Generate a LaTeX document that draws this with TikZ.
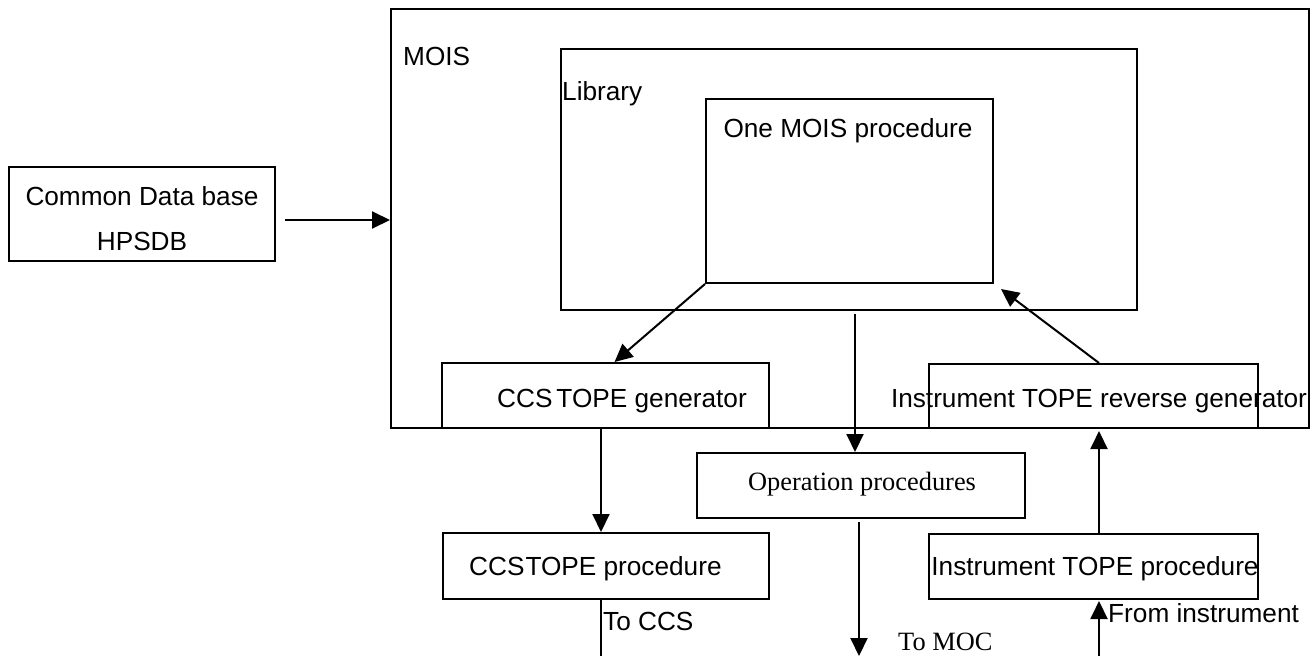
\documentclass[tikz,border=0pt]{standalone}
\usepackage{fontspec}
\setmainfont{Liberation Sans}
\newfontfamily\timesfont{Liberation Serif}
\usetikzlibrary{arrows.meta}
\tikzset{
  box/.style={draw, line width=2pt, inner sep=0pt, fill=none},
  lbl/.style={inner sep=0pt, font=\fontsize{26.2}{31}\selectfont},
  slbl/.style={inner sep=0pt, font=\timesfont\fontsize{26.4}{31}\selectfont},
  arr/.style={line width=2pt, -{Triangle[length=18pt,width=17pt]}},
  ln/.style={line width=2pt}
}
\begin{document}
\begin{tikzpicture}[x=1pt,y=-1pt]
\useasboundingbox (0,0) rectangle (1311,656);
% boxes
\node[box, minimum width=918pt, minimum height=419pt] (mois) at (850,218.5) {};
\node[box, minimum width=576pt, minimum height=261pt] (lib) at (849,179.5) {};
\node[box, minimum width=287pt, minimum height=184pt] (one) at (849.5,191) {};
\node[box, minimum width=266pt, minimum height=94pt] (cdb) at (142,214) {};
\node[box, minimum width=327pt, minimum height=65pt] (ccsgen) at (605.5,395.5) {};
\node[box, minimum width=329pt, minimum height=64pt] (instgen) at (1093.5,396) {};
\node[box, minimum width=328pt, minimum height=65pt] (op) at (861,485.5) {};
\node[box, minimum width=326pt, minimum height=66pt] (ccsproc) at (606,566) {};
\node[box, minimum width=329pt, minimum height=65pt] (instproc) at (1093.5,566.5) {};
% free ends
\coordinate (ccsout) at (601,656);
\coordinate (mocout) at (859,656);
\coordinate (instin) at (1099,656);
% texts
\node[lbl, anchor=base west] (tmois) at (403,65) {MOIS};
\node[lbl, anchor=base west] (tlib) at (562,100) {Library};
\node[lbl, anchor=base] (tone) at (848,137) {One MOIS procedure};
\node[lbl, anchor=base] (tcdb1) at (142,205) {Common Data base};
\node[lbl, anchor=base] (tcdb2) at (142,250) {HPSDB};
\node[lbl, anchor=base west] (tccsgen) at (497,407) {CCS\kern4pt TOPE generator};
\node[lbl, anchor=base] (tinstgen) at (1099,407) {Instrument TOPE reverse generator};
\node[slbl, anchor=base] (top) at (862,490) {Operation procedures};
\node[lbl, anchor=base west] (tccsproc) at (469,575) {CCS\kern1pt TOPE procedure};
\node[lbl, anchor=base] (tinstproc) at (1095,575) {Instrument TOPE procedure};
\node[lbl, anchor=base west] (ttoccs) at (603,630) {To CCS};
\node[slbl, anchor=base west] (ttomoc) at (898,650) {To MOC};
\node[lbl, anchor=base west] (tfrom) at (1108,622) {From instrument};
% connectors
\draw[arr] ([xshift=9pt,yshift=-6pt]cdb.east) -- ([yshift=-6pt]mois.west |- cdb.east);
\draw[arr] (one.south west) -- ([xshift=9pt]ccsgen.north);
\draw[arr] ([xshift=6pt,yshift=-3pt]lib.south) -- ([xshift=-6pt]op.north);
\draw[arr] ([xshift=-2pt,yshift=-3pt]op.south) -- (mocout);
\draw[arr] ([xshift=5.5pt]instgen.north) -- ([xshift=7pt,yshift=-5pt]one.south east);
\draw[arr] ([xshift=5.5pt]instproc.north) -- ([xshift=5.5pt,yshift=-2pt]instgen.south);
\draw[arr] (instin) -- ([xshift=5.5pt,yshift=-1pt]instproc.south);
\draw[arr] ([xshift=-4.5pt]ccsgen.south) -- ([xshift=-5pt]ccsproc.north);
\draw[ln] ([xshift=-5pt]ccsproc.south) -- (ccsout);
\end{tikzpicture}
\end{document}
